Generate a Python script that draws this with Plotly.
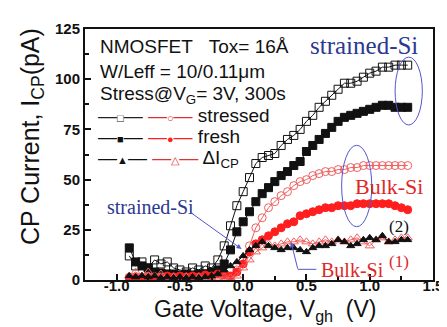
import plotly.graph_objects as go

# ---------------- data ----------------
vg = [-0.90, -0.85, -0.80, -0.75, -0.70, -0.65, -0.60, -0.55, -0.50, -0.45,
      -0.40, -0.35, -0.30, -0.25, -0.20, -0.15, -0.10, -0.05, 0.00, 0.05,
      0.10, 0.15, 0.20, 0.25, 0.30, 0.35, 0.40, 0.45, 0.50, 0.55,
      0.60, 0.65, 0.70, 0.75, 0.80, 0.85, 0.90, 0.95, 1.00, 1.05,
      1.10, 1.15, 1.20, 1.25, 1.30]

strained_stressed = [12, 7, 9, 6, 10, 8, 9, 6, 5, 4,
                     6, 5, 7, 6, 10, 17, 27, 37, 44, 51,
                     58, 61, 62, 63, 67, 70, 72, 75, 79, 82,
                     86, 89, 92, 95, 98, 98, 99, 101, 103, 104,
                     106, 106, 107, 107, 107]
strained_fresh = [16, 9, 7, 6, 4, 3.5, 3, 3, 2.5, 3,
                  2.5, 3, 3, 4, 5, 8, 15, 24, 29, 34,
                  39, 43, 46, 49, 52, 54, 57, 59, 64, 67,
                  70, 73, 76, 79, 81, 82, 83, 84, 85, 86,
                  87, 87, 86, 86, 86]
bulk_stressed = [1.5, 1.5, 1.5, 1.5, 1.5, 1.5, 1.5, 1.5, 1.5, 1.5,
                 1.5, 1.5, 1.5, 1.5, 1.5, 1.5, 1.5, 5, 10, 17,
                 26, 31, 36, 39, 42, 44, 47, 49, 50, 52,
                 53, 54, 54, 55, 55, 56, 56, 57, 57, 57,
                 57, 57, 57, 57, 57]
bulk_fresh = [1, 1, 1, 1, 1.5, 1, 2, 1.5, 2, 1.5,
              2, 1.5, 2.5, 2, 3, 2.5, 2, 4, 8, 14,
              18, 20, 22, 24, 26, 28, 29, 32, 33, 34,
              35, 36, 36, 37, 37, 37, 38, 38, 38, 38,
              38, 38, 37, 36, 35]
strained_delta = [2, 1.5, 2, 1.5, 2, 1, 1.5, 1, 1.5, 1,
                  1.5, 1, 1.5, 2, 3, 5, 7, 9, 12, 15,
                  17, 19, 17, 16, 15, 16, 16, 15, 14, 16,
                  17, 17, 18, 20, 19, 17, 18, 20, 21, 20,
                  22, 19, 19, 20, 20]
bulk_delta = [2, 4, 2, 4, 2, 3, 1, 1.5, 1, 1.5,
              1, 1.5, 1, 1.5, 1, 1.5, 1, 2, 6, 10,
              14, 16, 18, 17, 18, 19, 19, 20, 19, 18,
              19, 20, 19, 20, 19, 20, 21, 19, 17, 20,
              21, 19, 20, 21, 21]

x_ticks = [-1.0, -0.5, 0.0, 0.5, 1.0, 1.5]
x_tick_labels = ["-1.0", "-0.5", "0.0", "0.5", "1.0", "1.5"]
y_ticks = [0, 25, 50, 75, 100, 125]
y_tick_labels = ["0", "25", "50", "75", "100", "125"]

BLACK = "#111111"
RED = "#ff1f1f"
PINK = "#f06060"
BLUE_TXT = "#2b3990"
BLUE_LN = "#5555cc"

fig = go.Figure()

def add(y, color, symbol, size=7, lw=1, mlw=1):
    fig.add_trace(go.Scatter(
        x=vg, y=y, mode="lines+markers",
        line=dict(color=color, width=lw),
        marker=dict(symbol=symbol, size=size, color=color,
                    line=dict(color=color, width=mlw)),
        showlegend=False))

add(strained_stressed, BLACK, "square-open", 8)
add(strained_fresh, BLACK, "square", 8)
add(bulk_stressed, PINK, "circle-open", 8)
add(bulk_fresh, RED, "circle", 8)
add(bulk_delta, PINK, "triangle-up-open", 8)
add(strained_delta, BLACK, "triangle-up", 7)

SANS = "Liberation Sans, Arial, sans-serif"
SERIF = "Liberation Serif, Times New Roman, serif"

# pixel -> paper helpers (plot area 77..435 x, 13..272 y)
def px(x):
    return (x - 77) / 358.0

def py(y):
    return (272 - y) / 259.0

ann = []

def text(xp, yp, t, size, color=BLACK, family=SANS, anchor="left"):
    ann.append(dict(x=px(xp), y=py(yp), xref="paper", yref="paper",
                    text=t, showarrow=False, xanchor=anchor, yanchor="middle",
                    font=dict(size=size, color=color, family=family)))

text(90, 31, "NMOSFET&nbsp;&nbsp;&nbsp;Tox= 16Å", 19)
text(90, 57, "W/Leff = 10/0.11μm", 19)
text(90, 81, "Stress@V<sub>G</sub>= 3V, 300s", 19)

sym = '<span style="font-size:11px">%s</span>'
text(88, 102, '<span style="color:#222">—' + sym % "□" + '—</span> '
     '<span style="color:#e03030">—' + sym % "○" + '—</span> stressed', 19)
text(88, 124, '<span style="color:#111">—' + sym % "■" + '—</span> '
     '<span style="color:#ff1f1f">—' + sym % "●" + '—</span> fresh', 19)
text(88, 147, '<span style="color:#111">—' + sym % "▲" + '—</span> '
     '<span style="color:#e03030">—' + sym % "△" + '—</span> ΔI<sub>CP</sub>', 19)

text(306, 30, "strained-Si", 25, BLUE_TXT, SERIF)
text(353, 176, "Bulk-Si", 22, "#e02828", SERIF)
text(98, 197, "strained-Si", 20, BLUE_TXT, SERIF)
text(318, 262, "Bulk-Si", 20, "#e02828", SERIF)
text(388, 253, "(1)", 17, "#e02828", SERIF)
text(388, 217, "(2)", 17, BLACK, SERIF)

# axis titles
ann.append(dict(x=px(22), y=py(124), xref="paper", yref="paper",
                text="CP Current, I<sub>CP</sub>(pA)", showarrow=False,
                textangle=-90, xanchor="center", yanchor="middle",
                font=dict(size=25, color=BLACK, family=SANS)))
ann.append(dict(x=px(262), y=py(303), xref="paper", yref="paper",
                text="Gate Voltage, V<sub>gh</sub>&nbsp;&nbsp;(V)", showarrow=False,
                xanchor="center", yanchor="middle",
                font=dict(size=23, color=BLACK, family=SANS)))

# arrows
def dx(p):
    return -1.25 + (p - 77) / 130.18

def dy(p):
    return (272 - p) / 2.072

ann.append(dict(x=dx(238), y=dy(240), xref="x", yref="y", text="",
                showarrow=True, ax=185 - 238, ay=202 - 240,
                arrowhead=2, arrowsize=1, arrowwidth=1, arrowcolor=BLUE_LN))
ann.append(dict(x=dx(289), y=dy(233), xref="x", yref="y", text="",
                showarrow=True, ax=296 - 289, ay=261 - 233,
                arrowhead=2, arrowsize=1, arrowwidth=1, arrowcolor=BLUE_LN))

shapes = [
    dict(type="line", xref="x", yref="y", x0=dx(296), y0=dy(261), x1=dx(315), y1=dy(261),
         line=dict(color=BLUE_LN, width=1)),
    dict(type="circle", xref="x", yref="y", x0=dx(396), x1=dx(424), y0=dy(112), y1=dy(42),
         line=dict(color=BLUE_LN, width=1)),
    dict(type="circle", xref="x", yref="y", x0=dx(341), x1=dx(372), y0=dy(217), y1=dy(133),
         line=dict(color=BLUE_LN, width=1)),
]

axis_common = dict(
    showline=True, linecolor=BLACK, linewidth=2, mirror=True,
    ticks="inside", ticklen=6, tickwidth=2, tickcolor=BLACK,
    showgrid=False, zeroline=False,
    tickfont=dict(size=15, color=BLACK, family=SANS, weight="bold"),
)

fig.update_layout(
    width=447, height=327,
    margin=dict(l=77, r=12, t=13, b=55),
    paper_bgcolor="white", plot_bgcolor="white",
    xaxis=dict(range=[-1.25, 1.5], tickvals=x_ticks, ticktext=x_tick_labels,
               ticklabelstandoff=-9,
               minor=dict(ticks="inside", ticklen=4, tickwidth=1.5, tickcolor=BLACK,
                          dtick=0.25, tick0=0), **axis_common),
    yaxis=dict(range=[0, 125], tickvals=y_ticks, ticktext=y_tick_labels,
               minor=dict(ticks="inside", ticklen=4, tickwidth=1.5, tickcolor=BLACK,
                          dtick=12.5, tick0=0), **axis_common),
    annotations=ann, shapes=shapes, showlegend=False,
)

fig.write_html("out.html")
